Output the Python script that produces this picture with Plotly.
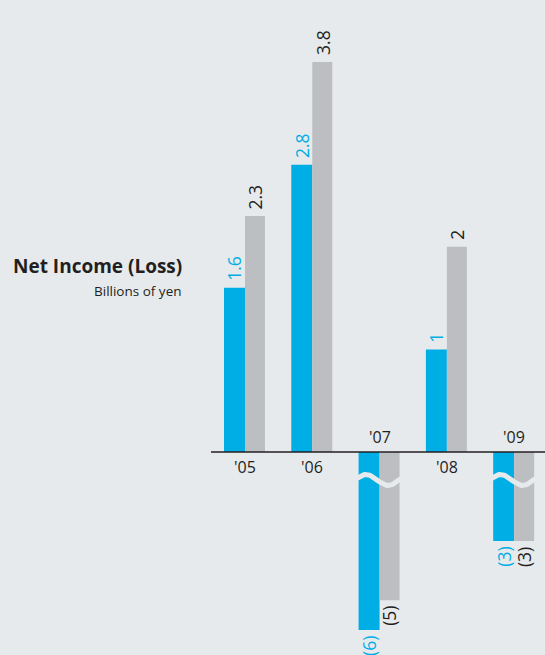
import numpy as np
import plotly.graph_objects as go

# ---- data ----
years = ["'05", "'06", "'07", "'08", "'09"]
blue_values = [1.6, 2.8, -6, 1, -3]
gray_values = [2.3, 3.8, -5, 2, -3]
blue_labels = ["1.6", "2.8", "(6)", "1", "(3)"]
gray_labels = ["2.3", "3.8", "(5)", "2", "(3)"]
broken_years = [2, 4]  # indices of categories with broken (compressed) negative axis

# ---- style ----
BG = "#e7eaec"
BLUE = "#00aee6"
GRAY = "#bdbec1"
TXT = "#231f20"
FONT = "Open Sans"
NEG_SCALE = 0.289          # negative values drawn compressed (broken axis)
BW_BLUE = 0.312
BW_GRAY = 0.297

W, H = 545, 655
PX_PER_UNIT = 102.6
ZERO_PX = 452
Y_TOP = ZERO_PX / PX_PER_UNIT
Y_BOT = -(H - ZERO_PX) / PX_PER_UNIT
X_RANGE = [-0.505, 4.458]


def disp(v):
    return v if v >= 0 else v * NEG_SCALE


xs = list(range(len(years)))
blue_disp = [disp(v) for v in blue_values]
gray_disp = [disp(v) for v in gray_values]

fig = go.Figure()
fig.add_bar(x=xs, y=blue_disp, width=BW_BLUE, offset=-BW_BLUE,
            marker=dict(color=BLUE, line=dict(width=0)), hoverinfo="skip")
fig.add_bar(x=xs, y=gray_disp, width=BW_GRAY, offset=0,
            marker=dict(color=GRAY, line=dict(width=0)), hoverinfo="skip")

# break symbols (wavy background-coloured band across the negative bars)
for i in broken_years:
    wx = np.linspace(i - BW_BLUE - 0.02, i + BW_GRAY + 0.02, 40)
    px = (wx - i) * 67.3
    wy_px = 480 - 5.5 * np.cos(2 * np.pi * (px - (366 - 379.5)) / 44)
    wy = -(wy_px - ZERO_PX) / PX_PER_UNIT
    fig.add_scatter(x=wx, y=wy, mode="lines", line=dict(color=BG, width=5),
                    hoverinfo="skip", showlegend=False)

annotations = []
for i, yr in enumerate(years):
    neg = blue_values[i] < 0
    annotations.append(dict(x=i, y=0, xref="x", yref="y", text=yr, showarrow=False,
                            font=dict(family=FONT, size=16, color=TXT),
                            yanchor="middle", xanchor="center",
                            yshift=(15 if neg else -15)))
    for vals, labels, color, xc in ((blue_values, blue_labels, BLUE, i - BW_BLUE / 2),
                                    (gray_values, gray_labels, TXT, i + BW_GRAY / 2)):
        v = vals[i]
        annotations.append(dict(x=xc, y=disp(v), xref="x", yref="y", text=labels[i],
                                showarrow=False, textangle=-90,
                                font=dict(family=FONT, size=17.5, color=color),
                                xanchor="center",
                                yanchor=("bottom" if v >= 0 else "top"),
                                yshift=(5 if v >= 0 else -4)))

annotations.append(dict(x=184, y=H - 266, xref="paper", yref="paper", text="<b>Net Income (Loss)</b>",
                        showarrow=False, xanchor="right", yanchor="middle",
                        font=dict(family=FONT, size=19, color=TXT)))
annotations.append(dict(x=184, y=H - 291, xref="paper", yref="paper", text="Billions of yen",
                        showarrow=False, xanchor="right", yanchor="middle",
                        font=dict(family=FONT, size=13.5, color=TXT)))

for a in annotations:
    if a["xref"] == "paper":
        a["x"] = (a["x"] - 211) / (W - 211)
        a["y"] = a["y"] / H

fig.update_layout(
    width=W, height=H,
    margin=dict(l=211, r=0, t=0, b=0),
    paper_bgcolor=BG, plot_bgcolor=BG,
    showlegend=False,
    barmode="overlay",
    xaxis=dict(range=X_RANGE, visible=False, fixedrange=True),
    yaxis=dict(range=[Y_BOT, Y_TOP], visible=False, fixedrange=True),
    annotations=annotations,
    shapes=[dict(type="line", xref="paper", yref="y", x0=0, x1=1, y0=0, y1=0,
                 line=dict(color=TXT, width=1.3))],
)

fig.write_html("out.html", config={"displayModeBar": False},
               post_script="document.body.style.margin='0';document.body.style.padding='0';"
                           "document.body.style.overflow='hidden';document.body.style.background='" + BG + "';")
